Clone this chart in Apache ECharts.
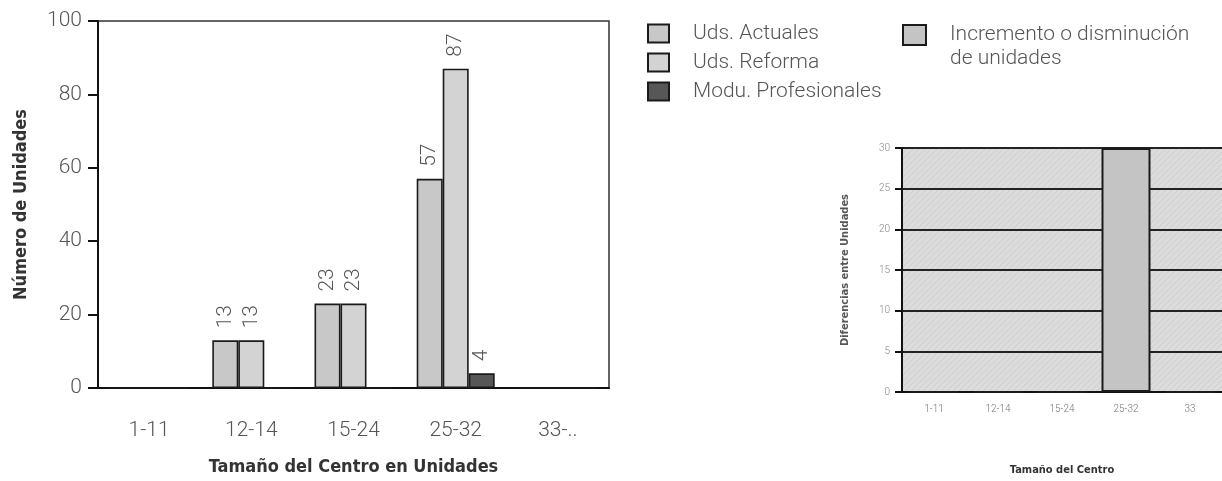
<!DOCTYPE html>
<html lang="es">
<head>
<meta charset="UTF-8">
<title>Unidades por tamaño del centro</title>
<script src="https://cdn.jsdelivr.net/npm/echarts@6/dist/echarts.min.js"></script>
<style>
  html, body { margin: 0; padding: 0; background: #fff; }
  #chart { width: 1222px; height: 481px; }
</style>
</head>
<body>
<div id="chart"></div>
<script>
  // datos
  var categorias = ['1-11', '12-14', '15-24', '25-32', '33-..'];
  var categoriasDif = ['1-11', '12-14', '15-24', '25-32', '33'];
  var udsActuales = [0, 13, 23, 57, 0];
  var udsReforma = [0, 13, 23, 87, 0];
  var moduProfesionales = [0, 0, 0, 4, 0];
  var incremento = [0, 0, 0, 30, 0];

  var FONT = "Roboto, 'DejaVu Sans Condensed', sans-serif";
  var FONT_B = "'DejaVu Sans Condensed', sans-serif";

  // fondo rayado del segundo grafico
  function hatch(bg, line) {
    var c = document.createElement('canvas');
    c.width = 6; c.height = 6;
    var g = c.getContext('2d');
    g.fillStyle = bg;
    g.fillRect(0, 0, 6, 6);
    g.strokeStyle = line;
    g.lineWidth = 1;
    g.beginPath();
    g.moveTo(0, 6); g.lineTo(6, 0);
    g.stroke();
    return c;
  }

  var etiqueta = {
    show: true,
    position: 'top',
    rotate: 90,
    align: 'left',
    verticalAlign: 'middle',
    distance: 12,
    fontFamily: FONT,
    fontWeight: 300,
    fontSize: 21,
    color: '#555',
    formatter: function (p) { return p.value === 0 ? '' : p.value; }
  };

  function barra(nombre, datos, color) {
    return {
      name: nombre,
      type: 'bar',
      xAxisIndex: 0,
      yAxisIndex: 0,
      data: datos,
      barWidth: 26,
      barGap: '0%',
      itemStyle: { color: color, borderColor: '#1a1a1a', borderWidth: 1.6 },
      label: etiqueta,
      emphasis: { disabled: true }
    };
  }

  var myChart = echarts.init(document.getElementById('chart'));
  var option = {
    animation: false,
    textStyle: { fontFamily: FONT },
    legend: [{
      orient: 'vertical',
      left: 647,
      top: 23,
      padding: 0,
      itemWidth: 21,
      itemHeight: 18,
      itemGap: 8,
      selectedMode: false,
      icon: 'rect',
      textStyle: { fontFamily: FONT, fontWeight: 300, fontSize: 21, lineHeight: 21, color: '#555', padding: [0, 0, 0, 19] },
      data: ['Uds. Actuales', 'Uds. Reforma', 'Modu. Profesionales']
    }, {
      orient: 'vertical',
      left: 902,
      top: -1,
      padding: 0,
      itemWidth: 23,
      itemHeight: 20,
      selectedMode: false,
      icon: 'rect',
      // linea vacia delante para que la primera linea quede a la altura del icono
      formatter: function () { return '\nIncremento o disminución\nde unidades'; },
      textStyle: { fontFamily: FONT, fontWeight: 300, fontSize: 21, lineHeight: 24, color: '#555', padding: [0, 0, 0, 19] },
      data: ['Incremento o disminución de unidades']
    }],
    grid: [{
      left: 98, top: 21, width: 511, height: 370,
      show: true, borderColor: '#333', borderWidth: 1.5, backgroundColor: 'transparent'
    }, {
      left: 902, top: 148, width: 320, height: 245,
      show: true, borderWidth: 0,
      backgroundColor: { image: hatch('#dcdcdc', '#cdcdcd'), repeat: 'repeat' }
    }],
    xAxis: [{
      type: 'category',
      gridIndex: 0,
      data: categorias,
      name: 'Tamaño del Centro en Unidades',
      nameLocation: 'middle',
      nameGap: 70,
      nameTextStyle: { fontFamily: FONT_B, fontSize: 18, fontWeight: 'bold', color: '#333' },
      axisLine: { lineStyle: { color: '#111', width: 2 } },
      axisTick: { alignWithLabel: true, length: 9, lineStyle: { color: '#111', width: 2 } },
      axisLabel: { margin: 32, fontFamily: FONT, fontWeight: 300, fontSize: 21, color: '#555' }
    }, {
      type: 'category',
      gridIndex: 1,
      data: categoriasDif,
      name: 'Tamaño del Centro',
      nameLocation: 'middle',
      nameGap: 73,
      nameTextStyle: { fontFamily: FONT_B, fontSize: 11, fontWeight: 'bold', color: '#333' },
      axisLine: { lineStyle: { color: '#111', width: 2 } },
      axisTick: { alignWithLabel: true, length: 7, lineStyle: { color: '#111', width: 2 } },
      axisLabel: { margin: 12, fontFamily: FONT, fontWeight: 300, fontSize: 10, color: '#777' }
    }],
    yAxis: [{
      type: 'value',
      gridIndex: 0,
      min: 0, max: 100, interval: 20,
      name: 'Número de Unidades',
      nameLocation: 'middle',
      nameGap: 68,
      nameTextStyle: { fontFamily: FONT_B, fontSize: 18, fontWeight: 'bold', color: '#333' },
      axisLine: { show: true, lineStyle: { color: '#111', width: 2 } },
      axisTick: { show: true, length: 10, lineStyle: { color: '#111', width: 2 } },
      axisLabel: { margin: 16, fontFamily: FONT, fontWeight: 300, fontSize: 21, color: '#555' },
      splitLine: { show: false }
    }, {
      type: 'value',
      gridIndex: 1,
      min: 0, max: 30, interval: 5,
      name: 'Diferencias entre Unidades',
      nameLocation: 'middle',
      nameGap: 51,
      nameTextStyle: { fontFamily: FONT_B, fontSize: 11, fontWeight: 'bold', color: '#555' },
      axisLine: { show: true, lineStyle: { color: '#111', width: 2 } },
      axisTick: { show: true, length: 7, lineStyle: { color: '#111', width: 2 } },
      axisLabel: { margin: 12, fontFamily: FONT, fontWeight: 300, fontSize: 10, color: '#888' },
      splitLine: { show: true, lineStyle: { color: '#222', width: 2 } }
    }],
    series: [
      barra('Uds. Actuales', udsActuales, '#c8c8c8'),
      barra('Uds. Reforma', udsReforma, '#d3d3d3'),
      barra('Modu. Profesionales', moduProfesionales, '#575757'),
      {
        name: 'Incremento o disminución de unidades',
        type: 'bar',
        xAxisIndex: 1,
        yAxisIndex: 1,
        data: incremento,
        barWidth: 49,
        itemStyle: { color: '#c4c4c4', borderColor: '#1a1a1a', borderWidth: 2 },
        emphasis: { disabled: true }
      }
    ]
  };
  myChart.setOption(option);
</script>
</body>
</html>
